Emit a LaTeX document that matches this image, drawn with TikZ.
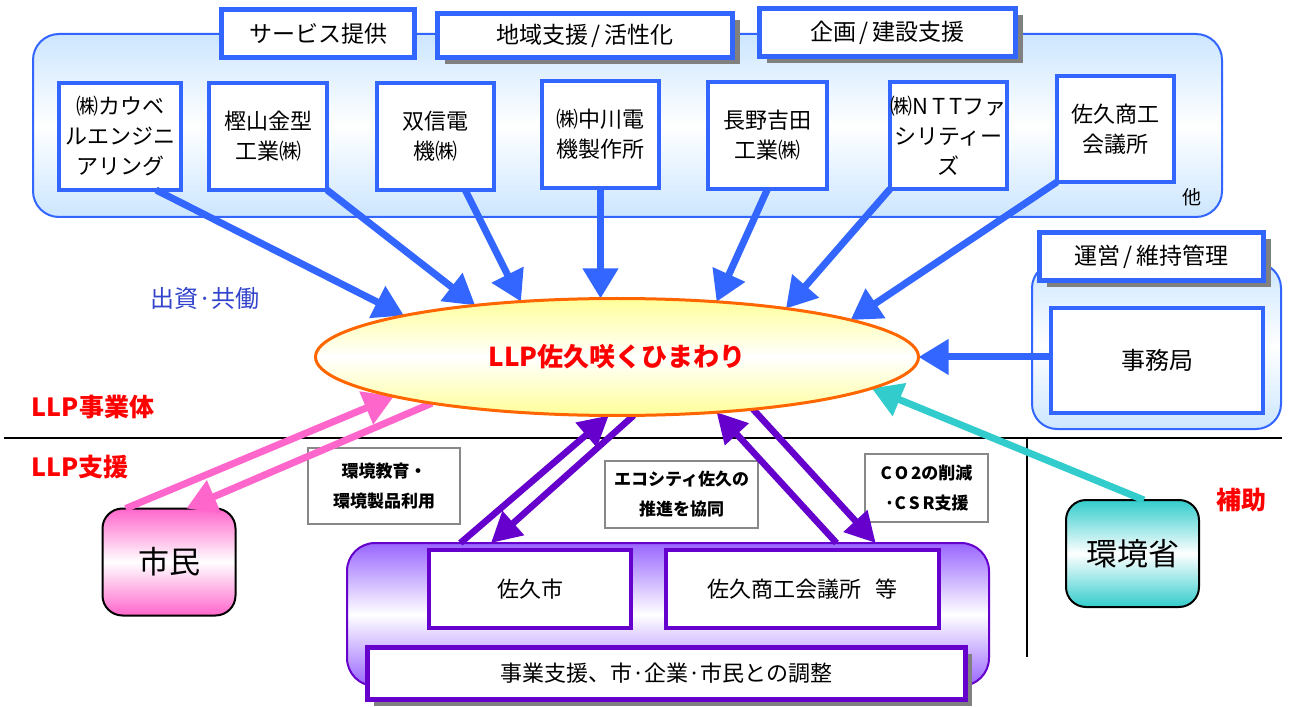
\documentclass[tikz,border=0pt]{standalone}
\usepackage{fontspec}
\setmainfont{Noto Sans CJK JP}
\usetikzlibrary{arrows.meta,shapes.geometric,shadows,calc}
\definecolor{bblue}{HTML}{3366FF}
\definecolor{lblue}{HTML}{CCE6FF}
\definecolor{ppl}{HTML}{6600CC}
\definecolor{lppl}{HTML}{9966FF}
\definecolor{pnk}{HTML}{FF66CC}
\definecolor{tealc}{HTML}{33CCCC}
\definecolor{orng}{HTML}{FF6600}
\definecolor{lyel}{HTML}{FFFF99}
\definecolor{dotblue}{HTML}{3344CC}
\definecolor{shd}{HTML}{808080}
\definecolor{lgray}{HTML}{888888}
\begin{document}
\begin{tikzpicture}[x=1pt,y=-1pt,
  every node/.style={inner sep=0pt,outer sep=0pt,align=center},
  fs/.style={font=\fontsize{#1}{#1}\selectfont},
  header/.style={draw=bblue,line width=5pt,fill=white,font=\fontsize{23}{26}\selectfont},
  hshadow/.style={general shadow={fill=shd,shadow xshift=7pt,shadow yshift=-7pt}},
  company/.style={draw=bblue,line width=4pt,fill=white,minimum width=118pt,minimum height=107pt,font=\fontsize{22}{30}\selectfont},
  bgroup/.style={draw=bblue,line width=2pt,rounded corners=26pt,top color=lblue,bottom color=lblue,middle color=white},
  pgroup/.style={draw=ppl,line width=2pt,rounded corners=28pt,top color=lppl,bottom color=lppl,middle color=white},
  pbox/.style={draw=ppl,line width=4pt,fill=white,font=\fontsize{22}{26}\selectfont},
  lbl/.style={draw=lgray,line width=2pt,fill=white,font=\fontsize{17}{30}\selectfont\bfseries},
  redlbl/.style={text=red,font=\fontsize{25}{27}\selectfont\bfseries},
  barrow/.style={draw=bblue,line width=7pt,-{Triangle[length=30pt,width=34pt]}},
  parrow/.style={draw=pnk,line width=7pt,-{Triangle[length=30pt,width=34pt]}},
  uarrow/.style={draw=ppl,line width=6.5pt,-{Triangle[length=30pt,width=31pt]}},
  tarrow/.style={draw=tealc,line width=7pt,-{Triangle[length=30pt,width=34pt]}},
  rbox/.style={draw=black,line width=2pt,rounded corners=20pt,minimum width=133pt,minimum height=107pt,font=\fontsize{31}{32}\selectfont}
]
\useasboundingbox (0,0) rectangle (1290,708);
\fill[white] (0,0) rectangle (1290,708);

% top group
\node[bgroup,minimum width=1189pt,minimum height=183pt] (gtop) at (627.5,125.5) {};
\node[header,minimum width=193pt,minimum height=48pt] (h1) at (318,33.5) {サービス提供};
\node[header,hshadow,minimum width=295pt,minimum height=44pt] (h2) at (585,35.5) {地域支援\,/\,活性化};
\node[header,hshadow,minimum width=256pt,minimum height=48pt] (h3) at (887.5,32.5) {企画\,/\,建設支援};

\node[company,minimum width=122pt] (c1) at (120,136.5) {㈱カウベ\\ルエンジニ\\アリング};
\node[company] (c2) at (268,136.5) {樫山金型\\工業㈱};
\node[company,minimum width=117pt] (c3) at (435.5,136.5) {双信電\\機㈱};
\node[company,minimum width=117pt] (c4) at (600.5,134.5) {㈱中川電\\機製作所};
\node[company,minimum width=119pt] (c5) at (767.5,135.5) {長野吉田\\工業㈱};
\node[company,minimum width=117pt] (c6) at (948.5,135.5) {㈱N\,T\,Tファ\\シリティー\\ズ};
\node[company,minimum width=117pt,minimum height=106pt] (c7) at (1115.5,129) {佐久商工\\会議所};
\node[fs=19] (hoka) at (1192,197) {他};

% right group
\node[bgroup,rounded corners=25pt,minimum width=249pt,minimum height=166pt] (gright) at (1156.5,346) {};
\node[header,hshadow,minimum width=224pt,minimum height=48pt] (h4) at (1151.5,256.5) {運営\,/\,維持管理};
\node[company,minimum width=212pt,minimum height=105pt,font=\fontsize{24}{26}\selectfont] (jimu) at (1157,360.5) {事務局};

% labels
\node[text=dotblue,fs=24] (shushi) at (205,298) {出資·共働};
\node[redlbl] (jigyotai) at (93,407) {LLP事業体};
\node[redlbl] (shien) at (80,467) {LLP支援};
\node[redlbl] (hojo) at (1241,500) {補助};

% separator lines
\coordinate (hlA) at (4,438);
\coordinate (hlB) at (1282,438);
\coordinate (vlA) at (1027,438);
\coordinate (vlB) at (1027,657);
\draw[line width=1.5pt] (hlA) -- (hlB);
\draw[line width=1.5pt] (vlA) -- (vlB);

% bottom
\node[rbox,top color=pnk,bottom color=pnk,middle color=white] (simin) at (169,562) {市民};
\node[rbox,top color=tealc,bottom color=tealc,middle color=white] (kankyo) at (1132.5,553.5) {環境省};

\node[pgroup,minimum width=642pt,minimum height=143pt] (grp) at (668,614.5) {};
\node[pbox,minimum width=202pt,minimum height=78pt] (sakushi) at (530,589) {佐久市};
\node[pbox,minimum width=273pt,minimum height=78pt] (shokai) at (802.5,589) {佐久商工会議所\hspace{14pt}等};
\node[pbox,line width=5pt,general shadow={fill=shd,shadow xshift=6pt,shadow yshift=-6pt},minimum width=598pt,minimum height=52pt] (jigyo) at (666.5,673.5) {事業支援、市·企業·市民との調整};

\node[lbl,minimum width=152pt,minimum height=76pt] (lb1) at (384,486) {環境教育・\\環境製品利用};
\node[lbl,minimum width=153pt,minimum height=67pt] (lb2) at (681.5,494.5) {エコシティ佐久の\\推進を協同};
\node[lbl,minimum width=123pt,minimum height=68pt] (lb3) at (926.5,488) {C\,O\,2の削減\\·C\,S\,R支援};

% ellipse (coordinates only for arrows first)
\node[ellipse,minimum width=603pt,minimum height=117pt] (llp) at (617,357) {};

% arrows
\draw[barrow] (c1.-56) -- (llp.169.5);
\draw[barrow] (c2.south east) -- (llp.160.3);
\draw[barrow] (c3.-61) -- (llp.150.6);
\draw[barrow] (c4.south) -- (c4.south |- llp.north);
\draw[barrow] (c5.south) -- (llp.29);
\draw[barrow] (c6.south west) -- (llp.16.6);
\draw[barrow] (c7.south west) -- (llp.9.2);
\draw[barrow] (jimu.west |- llp.east) -- (llp.east);

\draw[parrow] (simin.129) -- (llp.-170);
\draw[parrow] (llp.-166.4) -- (simin.72);

\draw[uarrow] (grp.161.2) -- (llp.-98.4);
\draw[uarrow] (llp.-74.7) -- (grp.158.2);
\draw[uarrow] (grp.23.2) -- (llp.-29.4);
\draw[uarrow] (llp.-21.4) -- (grp.19.9);

\draw[tarrow] (kankyo.78.1) -- (llp.-7);

% ellipse drawn on top
\node[ellipse,draw=orng,line width=3pt,top color=lyel,bottom color=lyel,middle color=white,minimum width=603pt,minimum height=117pt,text=red,font=\fontsize{26}{28}\selectfont\bfseries] (llpv) at (617,357) {LLP佐久咲くひまわり};
\end{tikzpicture}
\end{document}
